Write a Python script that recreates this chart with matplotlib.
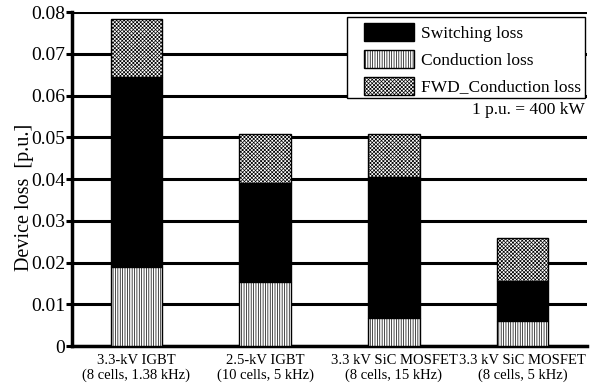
import matplotlib
matplotlib.use("Agg")
import matplotlib.pyplot as plt
from matplotlib.patches import Rectangle
import numpy as np

plt.rcParams['font.family'] = ['Liberation Serif', 'DejaVu Serif']
plt.rcParams['hatch.linewidth'] = 0.5

categories = ["3.3-kV IGBT\n(8 cells, 1.38 kHz)",
              "2.5-kV IGBT\n(10 cells, 5 kHz)",
              "3.3 kV SiC MOSFET\n(8 cells, 15 kHz)",
              "3.3 kV SiC MOSFET\n(8 cells, 5 kHz)"]
conduction = [0.0190, 0.0154, 0.0066, 0.0061]
switching = [0.0455, 0.0237, 0.0339, 0.0095]
fwd_conduction = [0.0138, 0.0116, 0.0103, 0.0103]
yticks = [0, 0.01, 0.02, 0.03, 0.04, 0.05, 0.06, 0.07, 0.08]
ytick_labels = ["0", "0.01", "0.02", "0.03", "0.04", "0.05", "0.06", "0.07", "0.08"]

fig = plt.figure(figsize=(5.92, 3.90), dpi=100)
ax = fig.add_axes([0.1216, 0.1128, 0.87, 0.856])

x = np.arange(len(categories))
w = 0.4
cond = np.array(conduction)
sw = np.array(switching)
fwd = np.array(fwd_conduction)

b_sw = ax.bar(x, sw, w, bottom=cond, color='black', edgecolor='black',
              linewidth=1.0, zorder=3, label='Switching loss')
b_cond = ax.bar(x, cond, w, color='white', edgecolor='black', hatch='|' * 7,
                linewidth=1.0, zorder=3, label='Conduction loss')
b_fwd = ax.bar(x, fwd, w, bottom=cond + sw, color='white', edgecolor='black',
               hatch='x' * 9, linewidth=1.0, zorder=3, label='FWD_Conduction loss')

ax.set_xlim(-0.5, len(categories) - 0.5)
ax.set_ylim(0, 0.08)
ax.set_yticks(yticks)
ax.set_yticklabels(ytick_labels, fontsize=14)
ax.set_xticks(x)
ax.set_xticklabels(categories, fontsize=10.5, linespacing=1.1)
ax.tick_params(axis='x', length=0, pad=6)
ax.tick_params(axis='y', length=4, width=2.2, pad=1)

ax.yaxis.grid(True, color='black', linewidth=2.2, zorder=0)
ax.set_axisbelow(True)
for s in ['top', 'right']:
    ax.spines[s].set_visible(False)
ax.spines['left'].set_linewidth(2.5)
ax.spines['bottom'].set_linewidth(2.5)

ax.set_ylabel("Device loss  [p.u.]", fontsize=14.5)
ax.yaxis.set_label_coords(-0.074, 0.446)

# legend entries without the default frame; a plain box is drawn behind them
leg = ax.legend(handles=[b_sw, b_cond, b_fwd], loc='upper right',
                bbox_to_anchor=(1.0, 0.986), fontsize=12.5, frameon=False,
                handlelength=2.9, handleheight=1.2, borderpad=0.35,
                labelspacing=0.47, handletextpad=0.4, borderaxespad=0)
leg.set_zorder(6)
box = Rectangle((0.534, 0.7425), 0.462, 0.2425, transform=ax.transAxes,
                facecolor='white', edgecolor='black', linewidth=1.0,
                zorder=5, clip_on=False)
ax.add_patch(box)

ax.text(3.48, 0.0566, "1 p.u. = 400 kW", ha='right', va='center', fontsize=12.5,
        zorder=6)

fig.savefig("out.png", dpi=100)
